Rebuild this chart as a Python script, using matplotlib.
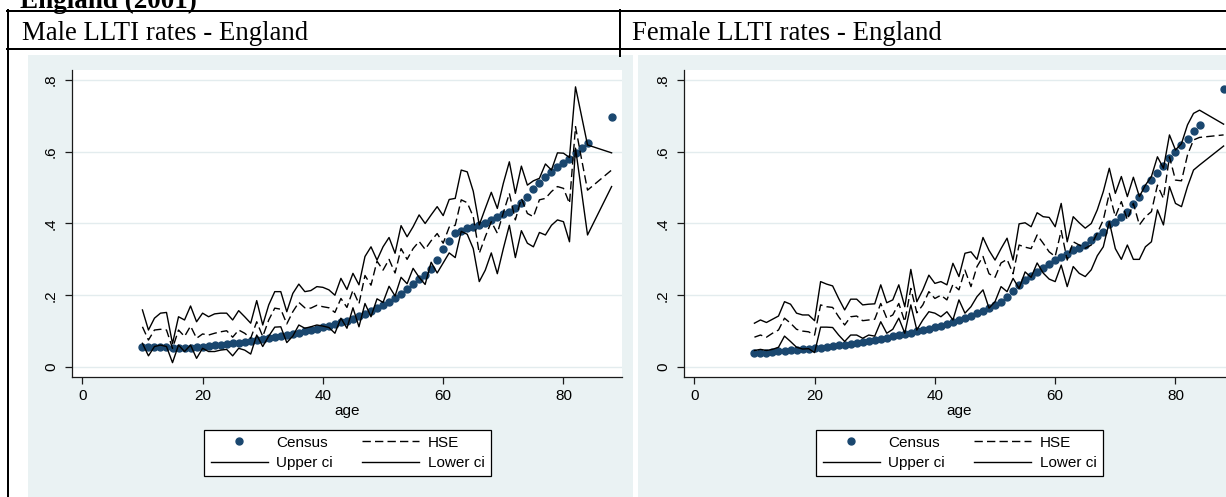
import matplotlib
matplotlib.use("Agg")
import matplotlib.pyplot as plt
from matplotlib.patches import Rectangle
from matplotlib.lines import Line2D

# ---------------- data ----------------
ages = list(range(10, 85)) + [88]

male_census = [0.056, 0.056, 0.056, 0.055, 0.055, 0.054, 0.054, 0.054, 0.054, 0.055,
               0.056, 0.058, 0.060, 0.062, 0.064, 0.066, 0.068, 0.070, 0.072, 0.075,
               0.077, 0.080, 0.083, 0.086, 0.089, 0.092, 0.096, 0.099, 0.103, 0.107,
               0.111, 0.115, 0.119, 0.124, 0.129, 0.135, 0.141, 0.148, 0.156, 0.164,
               0.172, 0.181, 0.191, 0.203, 0.216, 0.231, 0.245, 0.256, 0.272, 0.298,
               0.328, 0.351, 0.373, 0.379, 0.387, 0.391, 0.396, 0.400, 0.410, 0.419,
               0.426, 0.433, 0.442, 0.456, 0.475, 0.496, 0.512, 0.529, 0.543, 0.557,
               0.568, 0.580, 0.596, 0.610, 0.625, 0.696]
male_hse = [0.112, 0.075, 0.103, 0.105, 0.103, 0.052, 0.103, 0.085, 0.114, 0.080,
            0.092, 0.089, 0.094, 0.098, 0.101, 0.083, 0.103, 0.094, 0.080, 0.126,
            0.085, 0.131, 0.164, 0.161, 0.120, 0.154, 0.180, 0.165, 0.164, 0.172,
            0.168, 0.165, 0.152, 0.191, 0.166, 0.214, 0.176, 0.255, 0.228, 0.295,
            0.270, 0.300, 0.262, 0.330, 0.300, 0.330, 0.350, 0.328, 0.352, 0.372,
            0.345, 0.390, 0.395, 0.466, 0.458, 0.419, 0.317, 0.363, 0.405, 0.373,
            0.430, 0.484, 0.410, 0.470, 0.428, 0.419, 0.466, 0.470, 0.489, 0.503,
            0.498, 0.456, 0.670, 0.580, 0.493, 0.549]
male_upper = [0.159, 0.103, 0.136, 0.150, 0.152, 0.065, 0.140, 0.131, 0.170, 0.126,
              0.150, 0.140, 0.148, 0.150, 0.150, 0.131, 0.157, 0.140, 0.122, 0.185,
              0.117, 0.173, 0.210, 0.210, 0.154, 0.205, 0.231, 0.210, 0.213, 0.224,
              0.222, 0.215, 0.200, 0.247, 0.216, 0.261, 0.229, 0.308, 0.335, 0.298,
              0.335, 0.361, 0.317, 0.394, 0.363, 0.391, 0.424, 0.400, 0.424, 0.447,
              0.422, 0.467, 0.470, 0.549, 0.544, 0.490, 0.396, 0.442, 0.487, 0.442,
              0.512, 0.572, 0.484, 0.560, 0.507, 0.519, 0.526, 0.566, 0.549, 0.597,
              0.596, 0.584, 0.781, 0.700, 0.619, 0.597]
male_lower = [0.066, 0.031, 0.057, 0.061, 0.057, 0.012, 0.061, 0.043, 0.061, 0.024,
              0.052, 0.043, 0.043, 0.047, 0.049, 0.031, 0.052, 0.047, 0.036, 0.089,
              0.057, 0.086, 0.111, 0.112, 0.068, 0.086, 0.117, 0.108, 0.112, 0.117,
              0.114, 0.110, 0.094, 0.136, 0.108, 0.165, 0.112, 0.177, 0.140, 0.190,
              0.180, 0.225, 0.198, 0.250, 0.232, 0.275, 0.250, 0.230, 0.292, 0.262,
              0.290, 0.318, 0.305, 0.378, 0.370, 0.330, 0.238, 0.270, 0.318, 0.260,
              0.330, 0.395, 0.305, 0.380, 0.345, 0.335, 0.375, 0.368, 0.395, 0.410,
              0.405, 0.349, 0.610, 0.490, 0.368, 0.503]

female_census = [0.038, 0.039, 0.040, 0.042, 0.044, 0.045, 0.047, 0.048, 0.049, 0.051,
                 0.052, 0.054, 0.056, 0.058, 0.060, 0.062, 0.065, 0.067, 0.070, 0.073,
                 0.076, 0.079, 0.082, 0.085, 0.088, 0.091, 0.095, 0.099, 0.103, 0.107,
                 0.111, 0.115, 0.120, 0.125, 0.131, 0.137, 0.143, 0.150, 0.157, 0.164,
                 0.172, 0.181, 0.194, 0.211, 0.228, 0.243, 0.255, 0.265, 0.276, 0.287,
                 0.298, 0.307, 0.314, 0.325, 0.333, 0.340, 0.353, 0.366, 0.377, 0.398,
                 0.404, 0.418, 0.433, 0.454, 0.475, 0.500, 0.521, 0.542, 0.560, 0.582,
                 0.600, 0.619, 0.637, 0.658, 0.676, 0.775]
female_hse = [0.083, 0.089, 0.083, 0.094, 0.103, 0.136, 0.122, 0.105, 0.100, 0.098,
              0.089, 0.173, 0.168, 0.166, 0.140, 0.117, 0.140, 0.142, 0.129, 0.131,
              0.133, 0.177, 0.136, 0.145, 0.177, 0.126, 0.219, 0.151, 0.173, 0.210,
              0.191, 0.200, 0.187, 0.230, 0.215, 0.270, 0.224, 0.280, 0.308, 0.260,
              0.250, 0.290, 0.300, 0.260, 0.340, 0.334, 0.330, 0.368, 0.345, 0.321,
              0.308, 0.380, 0.298, 0.349, 0.340, 0.331, 0.340, 0.373, 0.410, 0.484,
              0.419, 0.461, 0.410, 0.456, 0.396, 0.419, 0.433, 0.507, 0.470, 0.586,
              0.521, 0.519, 0.591, 0.633, 0.640, 0.647]
female_upper = [0.122, 0.131, 0.124, 0.133, 0.142, 0.182, 0.175, 0.150, 0.145, 0.145,
                0.129, 0.238, 0.231, 0.226, 0.191, 0.159, 0.189, 0.189, 0.173, 0.175,
                0.176, 0.229, 0.179, 0.187, 0.229, 0.168, 0.272, 0.182, 0.215, 0.256,
                0.233, 0.238, 0.229, 0.289, 0.252, 0.317, 0.321, 0.300, 0.361, 0.325,
                0.298, 0.330, 0.359, 0.298, 0.399, 0.402, 0.391, 0.430, 0.419, 0.417,
                0.391, 0.456, 0.349, 0.419, 0.402, 0.387, 0.400, 0.438, 0.489, 0.554,
                0.484, 0.531, 0.475, 0.529, 0.475, 0.507, 0.531, 0.586, 0.554, 0.647,
                0.605, 0.623, 0.675, 0.707, 0.716, 0.677]
female_lower = [0.046, 0.049, 0.046, 0.049, 0.055, 0.086, 0.071, 0.055, 0.050, 0.051,
                0.040, 0.111, 0.111, 0.110, 0.089, 0.071, 0.089, 0.089, 0.080, 0.089,
                0.086, 0.126, 0.094, 0.105, 0.136, 0.094, 0.173, 0.103, 0.131, 0.154,
                0.150, 0.140, 0.154, 0.131, 0.187, 0.150, 0.168, 0.196, 0.215, 0.164,
                0.182, 0.224, 0.210, 0.247, 0.219, 0.265, 0.250, 0.290, 0.262, 0.245,
                0.238, 0.284, 0.224, 0.280, 0.261, 0.252, 0.271, 0.310, 0.335, 0.405,
                0.330, 0.300, 0.340, 0.300, 0.300, 0.335, 0.349, 0.438, 0.396, 0.503,
                0.456, 0.447, 0.503, 0.549, 0.563, 0.616]

x_ticks = [0, 20, 40, 60, 80]
y_ticks = [0, 0.2, 0.4, 0.6, 0.8]
y_ticklabels = ["0", ".2", ".4", ".6", ".8"]
legend_labels = ["Census", "HSE", "Upper ci", "Lower ci"]
cell_titles = ["Male LLTI rates - England", "Female LLTI rates - England"]
doc_title = "England (2001)"

# ---------------- layout helpers ----------------
W, H = 1226, 497
fig = plt.figure(figsize=(W / 100, H / 100), dpi=100)
fig.patch.set_facecolor("white")

def fx(px):
    return px / W

def fy(py):
    return 1 - py / H

def rect(x0, y0, w, h):
    return [x0 / W, 1 - (y0 + h) / H, w / W, h / H]

SERIF = ["Liberation Serif", "DejaVu Serif"]
SANS = ["Liberation Sans", "DejaVu Sans"]
BG = "#EAF2F3"
NAVY = "#1A476F"

def hline(y, x0, x1, lw=2.0):
    fig.add_artist(Line2D([fx(x0), fx(x1)], [fy(y), fy(y)], transform=fig.transFigure,
                          color="black", lw=lw * 0.72, zorder=5))

def vline(x, y0, y1, lw=2.0):
    fig.add_artist(Line2D([fx(x), fx(x)], [fy(y0), fy(y1)], transform=fig.transFigure,
                          color="black", lw=lw * 0.72, zorder=5))

hline(11, 6.5, 1230)
hline(48.5, 6.5, 1230)
vline(7.5, 10, 500)
vline(619.5, 10, 56)

fig.text(fx(20), fy(7.5), doc_title, family=SERIF, fontweight="bold", fontsize=19.5,
         ha="left", va="baseline")
fig.text(fx(22), fy(40), cell_titles[0], family=SERIF, fontsize=19.3, ha="left", va="baseline")
fig.text(fx(632), fy(40), cell_titles[1], family=SERIF, fontsize=19.3, ha="left", va="baseline")

# panel backgrounds
fig.add_artist(Rectangle((fx(27.5), 0), fx(633) - fx(27.5), fy(55), transform=fig.transFigure,
                         facecolor=BG, edgecolor="none", zorder=1))
fig.add_artist(Rectangle((fx(638), 0), fx(1300) - fx(638), fy(55), transform=fig.transFigure,
                         facecolor=BG, edgecolor="none", zorder=1))

FS = 11
panels = [
    (72, male_census, male_hse, male_upper, male_lower),
    (684, female_census, female_hse, female_upper, female_lower),
]

for x0, cen, hse, up, lo in panels:
    ax = fig.add_axes(rect(x0, 70, 550, 307))
    ax.set_zorder(3)
    ax.set_facecolor("white")
    ax.set_xlim(-1.71, 89.73)
    ax.set_ylim(-0.028, 0.828)
    for yv in y_ticks:
        ax.axhline(yv, color="#E3ECEE", lw=1.0, zorder=0.5)
    ax.plot(ages, cen, linestyle="none", marker="o", markersize=5.0,
            markerfacecolor=NAVY, markeredgecolor=NAVY, zorder=2)
    ax.plot(ages, hse, color="black", lw=1.0, linestyle=(0, (6, 3)), zorder=3)
    ax.plot(ages, up, color="black", lw=1.0, zorder=3)
    ax.plot(ages, lo, color="black", lw=1.0, zorder=3)
    ax.spines["top"].set_visible(False)
    ax.spines["right"].set_visible(False)
    for s in ("left", "bottom"):
        ax.spines[s].set_color("#1a1a1a")
        ax.spines[s].set_linewidth(0.9)
    ax.set_xticks(x_ticks)
    ax.set_xticklabels([str(t) for t in x_ticks], family=SANS, fontsize=FS)
    ax.set_yticks(y_ticks)
    ax.set_yticklabels(y_ticklabels, family=SANS, fontsize=FS, rotation=90, va="center")
    ax.tick_params(axis="both", direction="out", length=5, width=0.9, color="#1a1a1a", pad=4)
    ax.tick_params(axis="y", pad=5)
    ax.set_xlabel("age", family=SANS, fontsize=FS, labelpad=0)

    handles = [
        Line2D([], [], linestyle="none", marker="o", markersize=5.0,
               markerfacecolor=NAVY, markeredgecolor=NAVY),
        Line2D([], [], color="black", lw=1.0),
        Line2D([], [], color="black", lw=1.0, linestyle=(0, (6, 3))),
        Line2D([], [], color="black", lw=1.0),
    ]
    labels = [legend_labels[0], legend_labels[2], legend_labels[1], legend_labels[3]]
    cx = x0 + 275.5
    leg = fig.legend(handles, labels, loc="center", ncol=2,
                     bbox_to_anchor=(fx(cx), fy(453)), bbox_transform=fig.transFigure,
                     prop={"family": SANS, "size": FS}, frameon=True, fancybox=False,
                     edgecolor="black", framealpha=1.0, handlelength=3.75,
                     handletextpad=0.55, columnspacing=1.9, labelspacing=0.42,
                     borderpad=0.4, borderaxespad=0)
    leg.get_frame().set_linewidth(0.9)
    leg.set_zorder(6)

fig.savefig("out.png", dpi=100)
